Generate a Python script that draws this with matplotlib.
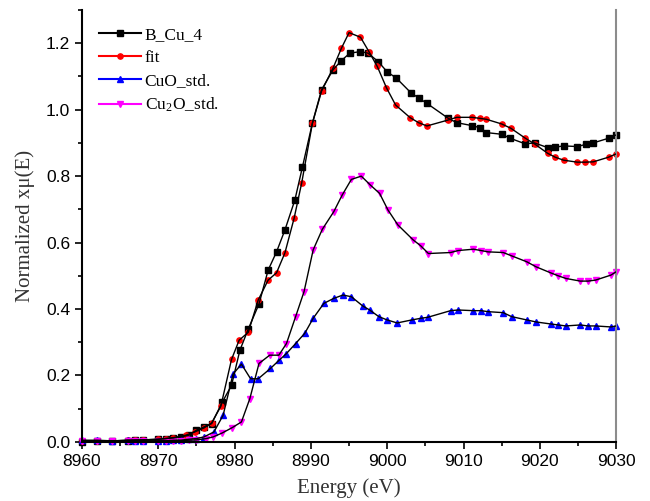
import numpy as np
import matplotlib
matplotlib.use('Agg')
import matplotlib.pyplot as plt
from matplotlib.lines import Line2D
from matplotlib.ticker import MultipleLocator

# Cu K-edge XANES
e_b = [8960, 8962, 8964, 8966, 8967, 8968, 8970, 8971, 8972, 8973, 8974, 8975, 8976, 8977,
       8978.4, 8979.6, 8980.7, 8981.8, 8983.2, 8984.4, 8985.5, 8986.6, 8987.9, 8988.9, 8990.2,
       8991.4, 8992.9, 8994, 8995.1, 8996.5, 8997.5, 8998.8, 9000, 9001.2, 9003.1, 9004.2,
       9005.2, 9008, 9009.1, 9011.1, 9012.1, 9013, 9015, 9016.1, 9018.1, 9019.3, 9021, 9022,
       9023.1, 9024.9, 9026.1, 9027, 9029, 9030]
mu_b = [0.0, 0.002, 0.002, 0.004, 0.005, 0.006, 0.008, 0.010, 0.012, 0.015, 0.020, 0.035,
        0.045, 0.055, 0.12, 0.17, 0.276, 0.34, 0.415, 0.517, 0.572, 0.638, 0.728, 0.828, 0.96,
        1.06, 1.12, 1.148, 1.17, 1.175, 1.17, 1.145, 1.114, 1.095, 1.051, 1.034, 1.019, 0.974,
        0.961, 0.952, 0.946, 0.931, 0.926, 0.914, 0.897, 0.900, 0.886, 0.887, 0.891, 0.889,
        0.896, 0.900, 0.914, 0.924]

e_fit = [8960, 8962, 8964, 8966, 8967, 8968, 8970, 8971, 8972, 8973.6, 8974.8, 8976, 8977,
         8978.2, 8979.6, 8980.6, 8981.8, 8983.1, 8984.4, 8985.5, 8986.6, 8987.8, 8988.8, 8990.2,
         8991.4, 8992.9, 8994, 8995, 8996.5, 8997.6, 8998.7, 8999.9, 9001.1, 9003, 9004.1,
         9005.2, 9008, 9009.1, 9011.1, 9012.1, 9013, 9015, 9016.2, 9018.1, 9019.3, 9021, 9022,
         9023.1, 9024.9, 9025.9, 9027, 9029, 9030]
mu_fit = [0.003, 0.003, 0.003, 0.005, 0.006, 0.006, 0.008, 0.010, 0.013, 0.020, 0.030, 0.042,
          0.057, 0.107, 0.248, 0.306, 0.33, 0.427, 0.487, 0.509, 0.569, 0.673, 0.78, 0.959,
          1.056, 1.125, 1.185, 1.232, 1.218, 1.175, 1.13, 1.066, 1.014, 0.976, 0.961, 0.951,
          0.969, 0.977, 0.977, 0.974, 0.971, 0.957, 0.944, 0.914, 0.897, 0.869, 0.857, 0.848,
          0.842, 0.842, 0.843, 0.857, 0.867]

e_cuo = [8960, 8962, 8964, 8966, 8967, 8968, 8970, 8971, 8972, 8973, 8974, 8975, 8976, 8977.3,
         8978.5, 8979.8, 8980.9, 8982.1, 8983.1, 8984.7, 8985.8, 8986.8, 8988, 8989.2, 8990.3,
         8991.7, 8993, 8994.2, 8995.3, 8996.8, 8997.7, 8998.9, 9000, 9001.3, 9003.2, 9004.4,
         9005.3, 9008.3, 9009.3, 9011.3, 9012.3, 9013.2, 9015.2, 9016.3, 9018.3, 9019.5, 9021.4,
         9022.4, 9023.4, 9025.3, 9026.3, 9027.3, 9029.3, 9030]
mu_cuo = [0.005, 0.005, 0.003, 0.005, 0.003, 0.003, 0.003, 0.003, 0.005, 0.005, 0.008, 0.010,
          0.015, 0.030, 0.08, 0.204, 0.234, 0.19, 0.19, 0.221, 0.245, 0.266, 0.296, 0.327, 0.372,
          0.417, 0.432, 0.442, 0.437, 0.409, 0.397, 0.377, 0.367, 0.358, 0.367, 0.372, 0.375,
          0.395, 0.397, 0.395, 0.395, 0.392, 0.389, 0.377, 0.367, 0.361, 0.355, 0.352, 0.349,
          0.352, 0.349, 0.349, 0.346, 0.349]

e_cu2o = [8960, 8962, 8964, 8966, 8967, 8968, 8970, 8971, 8972, 8973, 8974, 8975, 8976.3,
          8977.2, 8978.4, 8979.7, 8980.9, 8982, 8983.2, 8984.6, 8985.8, 8986.8, 8988, 8989.1,
          8990.3, 8991.5, 8993, 8994.1, 8995.3, 8996.6, 8997.8, 8999, 9000.1, 9001.4, 9003.4,
          9004.4, 9005.4, 9008.3, 9009.3, 9011.3, 9012.3, 9013.2, 9015.2, 9016.3, 9018.3, 9019.5,
          9021.4, 9022.4, 9023.4, 9025.3, 9026.3, 9027.3, 9029.3, 9030]
mu_cu2o = [0.003, 0.003, 0.003, 0.003, 0.003, 0.003, 0.003, 0.003, 0.003, 0.004, 0.005, 0.006,
           0.010, 0.015, 0.027, 0.043, 0.06, 0.13, 0.236, 0.261, 0.261, 0.296, 0.377, 0.452,
           0.578, 0.64, 0.693, 0.743, 0.79, 0.80, 0.773, 0.748, 0.698, 0.653, 0.608, 0.59, 0.567,
           0.57, 0.576, 0.58, 0.576, 0.572, 0.57, 0.56, 0.542, 0.527, 0.509, 0.5, 0.492, 0.484,
           0.484, 0.487, 0.502, 0.512]

labels = ['B_Cu_4', 'fit', 'CuO_std.', r'Cu$_\mathregular{2}$O_std.']

plt.rcParams['font.family'] = 'Liberation Serif'
plt.rcParams['mathtext.fontset'] = 'stix'

fig = plt.figure(figsize=(6.5, 5.01), dpi=100)
ax = fig.add_axes([0.126, 0.118, 0.822, 0.862])

series = [(e_b, mu_b, 's', 'black'),
          (e_fit, mu_fit, 'o', 'red'),
          (e_cuo, mu_cuo, '^', 'blue'),
          (e_cu2o, mu_cu2o, 'v', 'magenta')]

for x, y, m, c in series:
    ax.plot(x, y, ls='none', marker=m, ms=3.8, color=c, mec=c, zorder=2, clip_on=False)
    ax.plot(x, y, color='black', lw=1.0, zorder=3)

handles = [Line2D([], [], color=c, marker=m, ms=3.8, lw=1.5) for _, _, m, c in series]
leg = ax.legend(handles, labels, loc='upper left', bbox_to_anchor=(0.01, 0.99),
                frameon=False, fontsize=12.5, handlelength=2.4, handletextpad=0.2,
                labelspacing=0.4, borderaxespad=0.3)

ax.set_xlim(8960, 9030)
ax.set_ylim(0, 1.3)
ax.xaxis.set_major_locator(MultipleLocator(10))
ax.xaxis.set_minor_locator(MultipleLocator(5))
ax.yaxis.set_major_locator(MultipleLocator(0.2))
ax.yaxis.set_minor_locator(MultipleLocator(0.1))
ax.tick_params(which='major', direction='out', length=5, width=1.2, labelsize=12.5)
ax.tick_params(which='minor', direction='out', length=3, width=1.2)
for t in ax.get_xticklabels() + ax.get_yticklabels():
    t.set_fontfamily('Liberation Sans')
ax.yaxis.set_major_formatter(matplotlib.ticker.FormatStrFormatter('%.1f'))

ax.spines['top'].set_visible(False)
ax.spines['right'].set_color('#8c8c8c')
ax.spines['right'].set_linewidth(1.5)
ax.spines['left'].set_linewidth(1.5)
ax.spines['bottom'].set_linewidth(1.5)

ax.set_xlabel('Energy (eV)', fontsize=15, color='#333333', labelpad=7)
ax.set_ylabel('Normalized x\u03bc(E)', fontsize=15, color='#333333', labelpad=8)

fig.savefig('out.png', dpi=100)
